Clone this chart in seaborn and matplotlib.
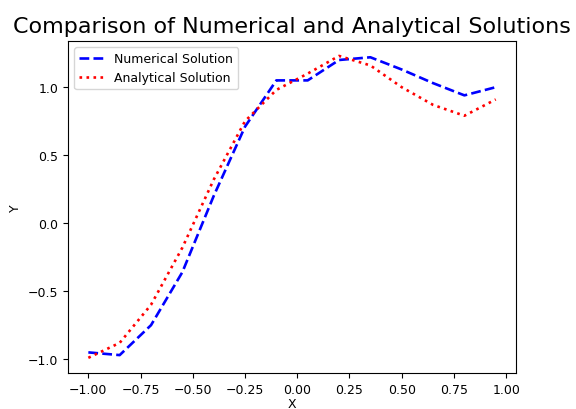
import matplotlib
matplotlib.use("Agg")
import matplotlib.pyplot as plt
import seaborn as sns

# Données
x_vals = [-1.0, -0.85, -0.7, -0.55, -0.4, -0.25, -0.1, 0.05, 0.2, 0.35, 0.5, 0.65, 0.8, 0.95]
y_numerical = [-0.95, -0.97, -0.75, -0.36, 0.2, 0.71, 1.05, 1.05, 1.2, 1.22, 1.13, 1.03, 0.94, 1.0]
y_analytical = [-0.99, -0.88, -0.6, -0.18, 0.32, 0.75, 0.98, 1.1, 1.23, 1.16, 1.0, 0.87, 0.79, 0.91]

fig = plt.figure(figsize=(5.76, 4.10), dpi=100)
ax = fig.add_axes([0.118, 0.088, 0.778, 0.81])

sns.lineplot(x=x_vals, y=y_numerical, ax=ax, color="blue", linestyle="--",
             linewidth=1.9, label="Numerical Solution")
sns.lineplot(x=x_vals, y=y_analytical, ax=ax, color="red", linestyle=":",
             linewidth=1.9, label="Analytical Solution")

ax.set_title("Comparison of Numerical and Analytical Solutions", fontsize=16)
ax.set_xlabel("X", fontsize=9, labelpad=1)
ax.set_ylabel("Y", fontsize=9)
ax.tick_params(labelsize=9)
ax.legend(loc="upper left", fontsize=9)

fig.savefig("out.png", dpi=100)
